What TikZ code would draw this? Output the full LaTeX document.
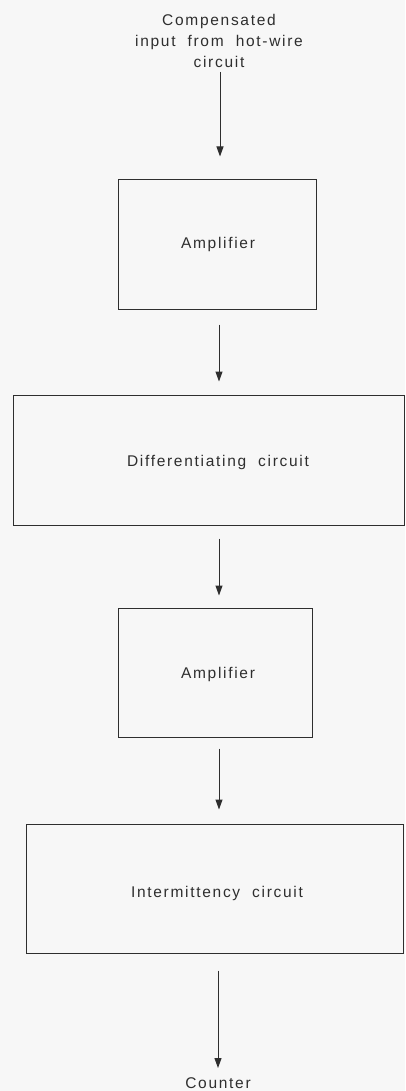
\documentclass[tikz,border=0pt]{standalone}
\usepackage{fontspec}
\setmainfont{Liberation Sans}[LetterSpace=11,WordSpace=2]
\usetikzlibrary{arrows.meta,calc}
\definecolor{bg}{HTML}{F7F7F7}
\definecolor{ink}{HTML}{2E2E2E}
\begin{document}
\begin{tikzpicture}[x=1pt,y=-1pt,
  blk/.style={draw=ink,line width=1pt,rectangle,inner sep=0pt},
  lbl/.style={text=ink,font=\fontsize{15.5}{21}\selectfont,inner sep=0pt,align=center},
  arr/.style={draw=ink,line width=1pt,-{Triangle[length=10pt,width=7pt]}}]
\fill[bg] (0,0) rectangle (405,1091);
\useasboundingbox (0,0) rectangle (405,1091);
% input text
\node[lbl,anchor=north] (in) at (219,14) {Compensated\\input from hot-wire\\circuit};
% boxes
\node[blk,minimum width=198pt,minimum height=129pt] (amp1) at (217,244.5) {};
\node[lbl] (amp1t) at (218,244) {Amplifier};
\node[blk,minimum width=391pt,minimum height=130pt] (diff) at (208.5,460) {};
\node[lbl] (difft) at (218,462) {Differentiating circuit};
\node[blk,minimum width=194pt,minimum height=129pt] (amp2) at (215,672.5) {};
\node[lbl] (amp2t) at (218,674) {Amplifier};
\node[blk,minimum width=377pt,minimum height=129pt] (inter) at (214.5,888.5) {};
\node[lbl] (intert) at (217,893) {Intermittency circuit};
\node[lbl,anchor=north] (cnt) at (218,1077) {Counter};
% arrow axes
\coordinate (ax1) at (220,0);
\coordinate (ax2) at (219,0);
\coordinate (ax3) at (218,0);
% arrows
\draw[arr,shorten <=4pt,shorten >=23pt] (in.south -| ax1) -- (amp1.north -| ax1);
\draw[arr,shorten <=15pt,shorten >=13pt] (amp1.south -| ax2) -- (diff.north -| ax2);
\draw[arr,shorten <=13pt,shorten >=12pt] (diff.south -| ax2) -- (amp2.north -| ax2);
\draw[arr,shorten <=11pt,shorten >=14pt] (amp2.south -| ax2) -- (inter.north -| ax2);
\draw[arr,shorten <=17pt,shorten >=9pt] (inter.south -| ax3) -- (cnt.north -| ax3);
\end{tikzpicture}
\end{document}
